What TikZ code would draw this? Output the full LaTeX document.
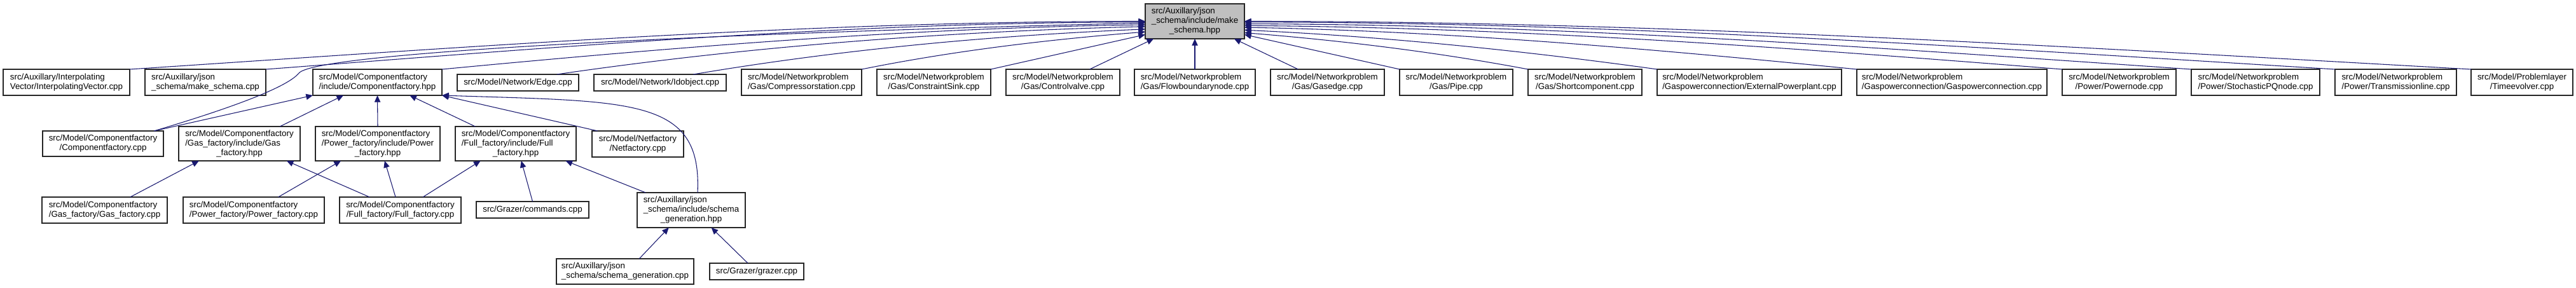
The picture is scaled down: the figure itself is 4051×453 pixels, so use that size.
\documentclass[tikz,border=0pt]{standalone}
\usepackage{fontspec}
\setmainfont{Liberation Sans}
\usetikzlibrary{arrows.meta}

\definecolor{edgeblue}{HTML}{191970}
\definecolor{rootgray}{HTML}{BFBFBF}

% two-part label: first lines left aligned, last line centred
\newcommand{\dxl}[2]{\begin{tabular}{@{}l@{}}#1\\\multicolumn{1}{@{}c@{}}{#2}\end{tabular}}

\tikzset{
  incbox/.style={draw=black!85, line width=1.1pt, fill=white, inner sep=0pt, outer sep=0pt, align=center, font=\fontsize{10}{11.25}\selectfont},
  incroot/.style={incbox, fill=rootgray},
  bw/.style={minimum width=#1*0.75pt},
  bh/.style={minimum height=#1*0.75pt},
  incarr/.style={-{Triangle[length=8pt,width=7pt]}, draw=edgeblue, line width=0.8pt}
}

\begin{document}
\begin{tikzpicture}[x=0.75pt,y=0.75pt]
        \useasboundingbox (0,0) rectangle (4051,-453);

        \node[incroot, bw=156, bh=55] (ms) at (1879,-33.5) {\dxl{src/Auxillary/json\\\_schema/include/make}{\_schema.hpp}};

        \node[incbox, bw=199, bh=41] (interp) at (104.5,-129.5) {\dxl{src/Auxillary/Interpolating}{Vector/InterpolatingVector.cpp}};
        \node[incbox, bw=190, bh=41] (mscpp) at (323,-129.5) {\dxl{src/Auxillary/json}{\_schema/make\_schema.cpp}};
        \node[incbox, bw=203, bh=41] (cfhpp) at (593.5,-129.5) {\dxl{src/Model/Componentfactory}{/include/Componentfactory.hpp}};
        \node[incbox, bw=191, bh=26] (edge) at (814.5,-130) {src/Model/Network/Edge.cpp};
        \node[incbox, bw=208, bh=26] (idobj) at (1038,-130) {src/Model/Network/Idobject.cpp};
        \node[incbox, bw=189, bh=41] (compr) at (1260.5,-129.5) {\dxl{src/Model/Networkproblem}{/Gas/Compressorstation.cpp}};
        \node[incbox, bw=179, bh=41] (csink) at (1468.5,-129.5) {\dxl{src/Model/Networkproblem}{/Gas/ConstraintSink.cpp}};
        \node[incbox, bw=179, bh=41] (cvalve) at (1671.5,-129.5) {\dxl{src/Model/Networkproblem}{/Gas/Controlvalve.cpp}};
        \node[incbox, bw=190, bh=41] (fbn) at (1879,-129.5) {\dxl{src/Model/Networkproblem}{/Gas/Flowboundarynode.cpp}};
        \node[incbox, bw=179, bh=41] (gasedge) at (2087.5,-129.5) {\dxl{src/Model/Networkproblem}{/Gas/Gasedge.cpp}};
        \node[incbox, bw=178, bh=41] (pipe) at (2290,-129.5) {\dxl{src/Model/Networkproblem}{/Gas/Pipe.cpp}};
        \node[incbox, bw=179, bh=41] (shortc) at (2492.5,-129.5) {\dxl{src/Model/Networkproblem}{/Gas/Shortcomponent.cpp}};
        \node[incbox, bw=290, bh=41] (extpp) at (2751,-129.5) {\dxl{src/Model/Networkproblem}{/Gaspowerconnection/ExternalPowerplant.cpp}};
        \node[incbox, bw=299, bh=41] (gpc) at (3069.5,-129.5) {\dxl{src/Model/Networkproblem}{/Gaspowerconnection/Gaspowerconnection.cpp}};
        \node[incbox, bw=179, bh=41] (pnode) at (3332.5,-129.5) {\dxl{src/Model/Networkproblem}{/Power/Powernode.cpp}};
        \node[incbox, bw=202, bh=41] (spq) at (3547,-129.5) {\dxl{src/Model/Networkproblem}{/Power/StochasticPQnode.cpp}};
        \node[incbox, bw=191, bh=41] (tline) at (3767.5,-129.5) {\dxl{src/Model/Networkproblem}{/Power/Transmissionline.cpp}};
        \node[incbox, bw=160, bh=41] (tevo) at (3966,-129.5) {\dxl{src/Model/Problemlayer}{/Timeevolver.cpp}};

        \node[incbox, bw=190, bh=40] (cfcpp) at (162,-226) {\dxl{src/Model/Componentfactory}{/Componentfactory.cpp}};
        \node[incbox, bw=191, bh=54] (gashpp) at (376.5,-226) {\dxl{src/Model/Componentfactory\\/Gas\_factory/include/Gas}{\_factory.hpp}};
        \node[incbox, bw=196, bh=54] (powhpp) at (594,-226) {\dxl{src/Model/Componentfactory\\/Power\_factory/include/Power}{\_factory.hpp}};
        \node[incbox, bw=190, bh=54] (fullhpp) at (811,-226) {\dxl{src/Model/Componentfactory\\/Full\_factory/include/Full}{\_factory.hpp}};
        \node[incbox, bw=144, bh=41] (netf) at (1003,-226.5) {\dxl{src/Model/Netfactory}{/Netfactory.cpp}};

        \node[incbox, bw=197, bh=41] (gascpp) at (164.5,-330.5) {\dxl{src/Model/Componentfactory}{/Gas\_factory/Gas\_factory.cpp}};
        \node[incbox, bw=222, bh=41] (powcpp) at (399,-330.5) {\dxl{src/Model/Componentfactory}{/Power\_factory/Power\_factory.cpp}};
        \node[incbox, bw=191, bh=41] (fullcpp) at (629.5,-330.5) {\dxl{src/Model/Componentfactory}{/Full\_factory/Full\_factory.cpp}};
        \node[incbox, bw=177, bh=26] (cmds) at (837.5,-330) {src/Grazer/commands.cpp};
        \node[incbox, bw=170, bh=55] (sghpp) at (1087,-330.5) {\dxl{src/Auxillary/json\\\_schema/include/schema}{\_generation.hpp}};

        \node[incbox, bw=216, bh=40] (sgcpp) at (983,-427) {\dxl{src/Auxillary/json}{\_schema/schema\_generation.cpp}};
        \node[incbox, bw=148, bh=26] (grazer) at (1190,-427) {src/Grazer/grazer.cpp};

        % includers of make_schema.hpp
        \draw[incarr] (interp.north east) .. controls +(532,35) and +(-532,0) .. (ms.180);
        \draw[incarr] (mscpp.north east) .. controls +(461,35) and +(-461,0) .. (ms.181);
        \draw[incarr] (cfcpp.14) .. controls (340,-177) and (450,-140) .. (470,-115) .. controls (500,-80) and (1200,-50) .. (ms.182);
        \draw[incarr] (cfhpp.north east) .. controls +(369,35) and +(-369,-5) .. (ms.184);
        \draw[incarr] (edge.12) .. controls +(308,45) and +(-308,-8) .. (ms.186);
        \draw[incarr] (idobj.14) .. controls +(237,40) and +(-237,-10) .. (ms.189);
        \draw[incarr] (compr.north east) .. controls +(149,30) and +(-149,-12) .. (ms.192);
        \draw[incarr] (csink.north east) -- (ms.195);
        \draw[incarr] (cvalve.26) -- (ms.203);
        \draw[incarr] (fbn.north) -- (ms.south);
        \draw[incarr] (gasedge.156) -- (ms.-24);
        \draw[incarr] (pipe.north west) -- (ms.-15);
        \draw[incarr] (shortc.north west) .. controls +(-149,28) and +(149,-12) .. (ms.-13);
        \draw[incarr] (extpp.north west) .. controls +(-216,30) and +(216,-10) .. (ms.-10);
        \draw[incarr] (gpc.north west) .. controls +(-321,32) and +(321,-6) .. (ms.-7);
        \draw[incarr] (pnode.north west) .. controls +(-429,34) and +(429,-3) .. (ms.-5);
        \draw[incarr] (spq.north west) .. controls +(-496,34) and +(496,-1) .. (ms.-3);
        \draw[incarr] (tline.north west) .. controls +(-572,35) and +(572,0) .. (ms.-1);
        \draw[incarr] (tevo.north west) .. controls +(-643,36) and +(643,0) .. (ms.0);

        % includers of Componentfactory.hpp
        \draw[incarr] (cfcpp.14) -- (cfhpp.south west);
        \draw[incarr] (gashpp.23) -- (cfhpp.201);
        \draw[incarr] (powhpp.north) -- (cfhpp.south);
        \draw[incarr] (fullhpp.157) -- (cfhpp.-22);
        \draw[incarr] (netf.162) -- (cfhpp.south east);
        \draw[incarr] (sghpp.70) .. controls +(7,150) and +(300,-10) .. (cfhpp.south east);

        \draw[incarr] (gascpp.27) -- (gashpp.203);
        \draw[incarr] (fullcpp.157) -- (gashpp.-20);
        \draw[incarr] (powcpp.28) -- (powhpp.205);
        \draw[incarr] (fullcpp.110) -- (powhpp.-68);
        \draw[incarr] (fullcpp.30) -- (fullhpp.206);
        \draw[incarr] (cmds.north) -- (fullhpp.-72);
        \draw[incarr] (sghpp.159) -- (fullhpp.-19);
        \draw[incarr] (sgcpp.42) -- (sghpp.218);
        \draw[incarr] (grazer.137) -- (sghpp.-41);
    \end{tikzpicture}
\end{document}
